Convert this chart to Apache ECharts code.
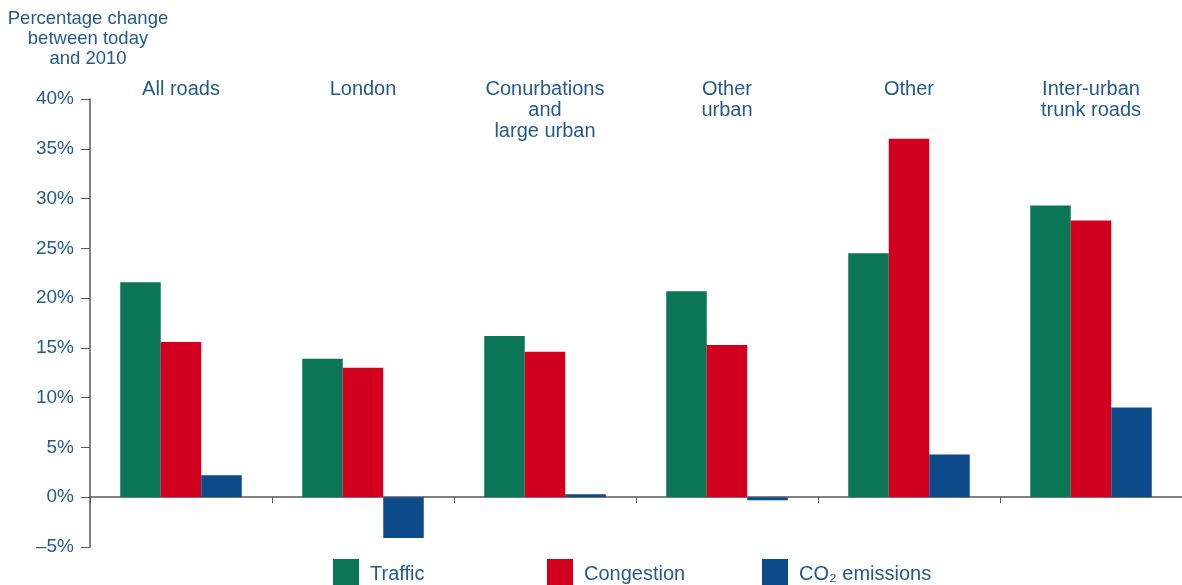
<!DOCTYPE html>
<html><head><meta charset="utf-8">
<script src="https://cdn.jsdelivr.net/npm/echarts@6/dist/echarts.min.js"></script>
<style>html,body{margin:0;padding:0;background:#fff}#c{width:1182px;height:585px}</style>
</head><body><div id="c"></div>
<script>
const categories = ['All roads','London','Conurbations\nand\nlarge urban','Other\nurban','Other','Inter-urban\ntrunk roads'];
const traffic    = [21.6, 13.9, 16.2, 20.7, 24.5, 29.3];
const congestion = [15.6, 13.0, 14.6, 15.3, 36.0, 27.8];
const co2        = [2.2, -4.1, 0.3, -0.3, 4.3, 9.0];
const seriesNames = ['Traffic','Congestion','CO₂ emissions'];

const FONT = '"Liberation Sans", Arial, sans-serif';
const TXT = '#245a8c';
const chart = echarts.init(document.getElementById('c'), null, {renderer:'canvas'});
const legendBase = (name, left) => ({
  data:[name], left:left, top:559, padding:0, itemWidth:26, itemHeight:30, icon:'rect',
  itemGap:0, textStyle:{color:TXT, fontSize:20, fontFamily:FONT, padding:[0,0,0,6]}
});
chart.setOption({
  animation:false,
  backgroundColor:'#fff',
  grid:{left:90, top:99, width:1095, height:448},
  legend:[legendBase(seriesNames[0],333), legendBase(seriesNames[1],547), legendBase(seriesNames[2],762)],
  xAxis:[{
    type:'category', data:categories, position:'bottom',
    axisLine:{onZero:true, lineStyle:{color:'#5a5a5a', width:1.5}},
    axisTick:{show:true, length:6, lineStyle:{color:'#5a5a5a'}},
    axisLabel:{show:false}
  },{
    type:'category', data:categories, position:'top',
    axisLine:{show:false}, axisTick:{show:false},
    axisLabel:{show:true, interval:0, verticalAlign:'top', margin:20, lineHeight:21,
      color:TXT, fontSize:20, fontFamily:FONT}
  }],
  yAxis:{
    type:'value', min:-5, max:40, interval:5,
    name:'Percentage change\nbetween today\nand 2010', nameLocation:'end', nameGap:30,
    nameTextStyle:{color:TXT, fontSize:18.5, fontFamily:FONT, align:'center', lineHeight:20, padding:[0,0,0,-4]},
    axisLine:{show:true, lineStyle:{color:'#5a5a5a', width:1.5}},
    axisTick:{show:true, length:9, lineStyle:{color:'#5a5a5a'}},
    axisLabel:{formatter:v => (v<0 ? '\u2013'+Math.abs(v) : v)+'%', margin:16, color:TXT, fontSize:19, fontFamily:FONT},
    splitLine:{show:false}
  },
  series:[
    {name:seriesNames[0], type:'bar', data:traffic, barWidth:40.5, barGap:'0%', itemStyle:{color:'#0a7656'}},
    {name:seriesNames[1], type:'bar', data:congestion, barWidth:40.5, barGap:'0%', itemStyle:{color:'#d2001e'}},
    {name:seriesNames[2], type:'bar', data:co2, barWidth:40.5, barGap:'0%', itemStyle:{color:'#0c4a8a'}}
  ]
});
</script></body></html>
